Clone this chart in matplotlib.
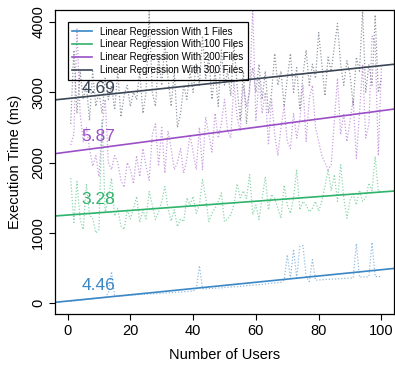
import numpy as np
import matplotlib
matplotlib.use("Agg")
import matplotlib.pyplot as plt

plt.rcParams['font.family'] = ['Liberation Sans', 'DejaVu Sans']

users = list(range(1, 101))

# measured execution time (ms), one value per user count
files_1 = [30, 35, 40, 45, 50, 55, 60, 62, 68, 72, 78, 85, 150, 450, 100,
           100, 105, 108, 110, 115, 118, 120, 125, 128, 130, 133, 135, 138, 140, 143,
           145, 150, 152, 155, 158, 160, 165, 168, 172, 175,
           200, 535, 210, 205, 210, 212, 215, 218, 220, 225, 228, 232, 235, 238, 240,
           245, 250, 255, 258, 262, 265, 270, 275, 280, 285, 290, 295, 300,
           330, 690, 350, 770, 360, 810, 820, 380, 310, 620, 330,
           330, 335, 340, 340, 345, 345, 350, 350, 355, 355, 360, 360,
           848, 370, 380, 370, 380, 867, 380, 380, 380]

files_100 = [1780, 1150, 1730, 1200, 1050, 1700, 1250, 1210, 1000, 1050,
             2600, 1300, 1500, 1780, 1240, 1350, 1100, 1050, 1330, 1200,
             1350, 1520, 1150, 1330, 1200, 1590, 1400, 1190, 1300, 1450,
             1660, 1350, 1170, 1330, 1090, 1200, 1160, 1500, 1400, 1520,
             1280, 1400, 1760, 1500, 1160, 1280, 1350, 1450, 1570, 1160,
             1200, 1260, 1400, 1700, 1500, 1600, 1490, 1830, 1260, 1400,
             1190, 1500, 1800, 1330, 1550, 1490, 1350, 1210, 1680, 1400,
             1280, 1500, 1900, 1330, 1450, 1400, 1300, 1350, 1450, 1310,
             1450, 1660, 1900, 1600, 1830, 1450, 1970, 1500, 1210, 1470,
             1550, 1400, 1610, 1450, 1500, 1710, 1600, 2090, 1590, 1600]

files_200 = [2250, 2400, 3900, 2700, 2300, 2500, 2200, 1950, 2100, 1800,
             2500, 2900, 2000, 1900, 2100, 2000, 1750, 1650, 2000, 1900,
             1700, 2100, 1800, 2200, 1950, 1750, 2400, 2550, 1950, 2500,
             1850, 2450, 2200, 1900, 2000, 2200, 1850, 2050, 2400, 2150,
             1900, 2500, 1900, 2650, 2400, 2150, 2700, 2350, 2550, 2900,
             2450, 2350, 3150, 2650, 2450, 3100, 2800, 3000, 4200, 2600,
             3200, 2700, 3000, 2250, 2900, 2400, 2100, 2500, 2800, 2300,
             2200, 2700, 2350, 2600, 3100, 2300, 2900, 3100, 2500, 2300,
             2100, 2000, 1900, 1970, 2600, 3200, 2400, 2700, 2300, 2600,
             2900, 2060, 2700, 3400, 2350, 2550, 3800, 3700, 2100, 3400]

files_300 = [2550, 3600, 2700, 3300, 2900, 3100, 2600, 3300, 2800, 3000,
             2700, 3200, 2900, 3100, 2750, 3300, 2650, 2950, 3100, 2800,
             3000, 2900, 3300, 2700, 3000, 4150, 3000, 2800, 3500, 3100,
             3700, 3200, 2800, 3300, 2500, 2700, 3100, 2900, 3300, 3000,
             3400, 3100, 3800, 3200, 3500, 2900, 3300, 2800, 3600, 3100,
             3300, 2950, 3700, 3100, 2600, 3300, 2550, 3100, 3350, 3000,
             3400, 2900, 3300, 2700, 3000, 3550, 3100, 3300, 2800, 3200,
             3550, 3000, 3350, 2750, 3250, 3600, 3100, 3400, 3200, 3850,
             3400, 2950, 3500, 3300, 3650, 3980, 3400, 3100, 3450, 3250,
             2820, 3500, 3300, 4150, 3000, 3400, 3100, 4100, 3000, 3200]

labels = ["Linear Regression With 1 Files", "Linear Regression With 100 Files",
          "Linear Regression With 200 Files", "Linear Regression With 300 Files"]
slopes = [4.46, 3.28, 5.87, 4.69]
intercepts = [32, 1255, 2151, 2911]
colors = ["#3a87c6", "#2fb36b", "#9b4fc6", "#3b4656"]
label_y = [260, 1470, 2370, 3060]

series = [files_1, files_100, files_200, files_300]

fig = plt.figure(figsize=(3.95, 3.67), dpi=100)
ax = fig.add_axes([55 / 395, 1 - 314.3 / 367, 339 / 395, 304.3 / 367])

xmin, xmax = -4, 104
handles = []
for ys, m, b, c, lab in zip(series, slopes, intercepts, colors, labels):
    ax.plot(users, ys, linestyle=(0, (1, 1.5)), color=c, lw=0.9, alpha=0.55)
    xx = np.array([xmin, xmax])
    h, = ax.plot(xx, b + m * xx, color=c, lw=1.2)
    handles.append(h)

for m, c, yy in zip(slopes, colors, label_y):
    ax.text(4.5, yy, f"{m:.2f}", color=c, fontsize=12.5, va="center", ha="left")

ax.set_xlim(xmin, xmax)
ax.set_ylim(-156, 4170)
ax.set_xticks([0, 20, 40, 60, 80, 100])
ax.set_yticks([0, 1000, 2000, 3000, 4000])
ax.tick_params(direction="out", length=4, width=0.8, labelsize=10.5, pad=3)
for lbl in ax.get_yticklabels():
    lbl.set_rotation(90)
    lbl.set_va("center")
for s in ax.spines.values():
    s.set_linewidth(0.9)

ax.set_xlabel("Number of Users", fontsize=10.5, labelpad=7)
ax.set_ylabel("Execution Time (ms)", fontsize=10.5, labelpad=7)

leg = ax.legend(handles, labels, loc="upper left", bbox_to_anchor=(0.037, 0.9616),
                borderaxespad=0, fontsize=7, handlelength=2.0, handletextpad=0.8,
                borderpad=0.5, labelspacing=0.3, fancybox=False)
frame = leg.get_frame()
frame.set_facecolor("none")
frame.set_edgecolor("black")
frame.set_alpha(None)
frame.set_linewidth(0.9)

fig.savefig("out.png", dpi=100)
